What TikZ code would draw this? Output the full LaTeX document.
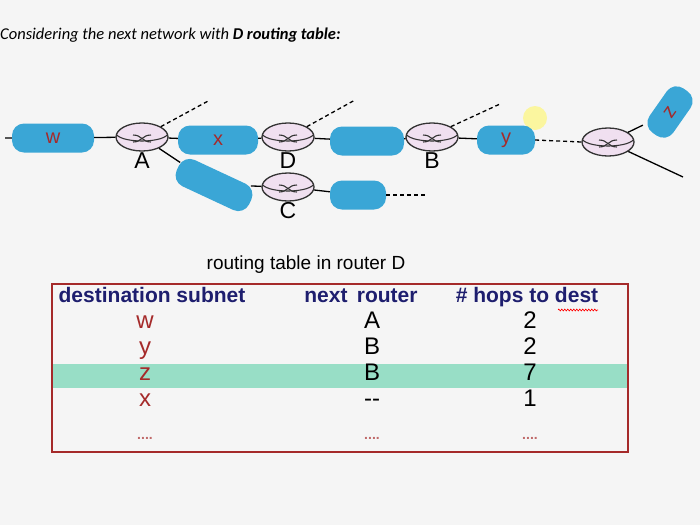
\documentclass[tikz,border=0pt]{standalone}
\usepackage{fontspec}
\setmainfont{Liberation Sans}
\newfontfamily\titlefont{Carlito}
\usetikzlibrary{shapes.geometric,decorations.pathmorphing}
\definecolor{blob}{HTML}{3AA6D6}
\definecolor{netred}{HTML}{A52A2A}
\definecolor{navy}{HTML}{1E1E6E}
\definecolor{band}{HTML}{7FD6B8}
\tikzset{
  router/.style={ellipse, draw=black!80, line width=1.3pt, fill=violet!12,
    minimum width=52pt, minimum height=28pt, inner sep=0pt,
    path picture={
      \draw[line width=1.1pt] ([yshift=4pt]path picture bounding box.west) arc (180:360:26pt and 8pt);
      \draw[line width=1.1pt] (-9pt,2pt) .. controls (0,2pt) and (0,-5pt) .. (9pt,-5pt);
      \draw[line width=1.1pt] (-9pt,-5pt) .. controls (0,-5pt) and (0,2pt) .. (9pt,2pt);}},
  subnet/.style={rounded corners=12pt, fill=blob, minimum height=29pt, inner sep=0pt,
    text=netred, font=\fontsize{20}{20}\selectfont},
  rlabel/.style={font=\fontsize{23}{23}\selectfont, inner sep=1pt},
  link/.style={line width=1.3pt},
  stub/.style={line width=1.3pt, dash pattern=on 4pt off 3pt},
  cell/.style={font=\fontsize{24}{24}\selectfont, text height=12pt, text depth=4pt, inner sep=0pt},
  head/.style={font=\bfseries\fontsize{21}{21}\selectfont, text=navy, text height=12pt, text depth=4pt, inner sep=0pt}
}
\begin{document}
\begin{tikzpicture}[x=1pt,y=-1pt]
	\fill[black!4] (0,0) rectangle (700,525);
	\useasboundingbox (0,0) rectangle (700,525);
	\node[anchor=west, inner sep=0pt, font=\titlefont\itshape\fontsize{16.5}{16.5}\selectfont] (title) at (0,35) {Considering the next network with \textbf{D routing table:}};
	% glare
	\fill[yellow!60, opacity=0.6] (535,118) circle (12);
	% subnets
	\node[subnet, minimum width=82pt] (w) at (53,138) {w};
	\node[subnet, minimum width=80pt] (x) at (218,140) {x};
	\node[subnet, minimum width=74pt] (db) at (367,141) {};
	\node[subnet, minimum width=58pt] (y) at (506,140) {y};
	\node[subnet, minimum width=56pt] (cs) at (358,195) {};
	\node[subnet, minimum width=80pt, rotate=-25] (ac) at (214,185) {};
	\node[subnet, minimum width=54pt, rotate=55] (z) at (670,112) {z};
	% routers
	\node[router] (A) at (142,137) {};
	\node[router] (D) at (288,137) {};
	\node[router] (B) at (432,137) {};
	\node[router] (C) at (288,187) {};
	\node[router] (R) at (608,142) {};
	\node[rlabel, below=0pt] at (A.south) {A};
	\node[rlabel, below=0pt] at (D.south) {D};
	\node[rlabel, below=0pt] at (B.south) {B};
	\node[rlabel, below=0pt] at (C.south) {C};
	% links
	\coordinate (wend) at (5,138);
	\coordinate (astub) at (210,100);
	\coordinate (dstub) at (355,100);
	\coordinate (bstub) at (500,104);
	\coordinate (cstub) at (425,195);
	\coordinate (rout) at (683,177);
	\draw[link] (wend) -- (w) -- (A) -- (x) -- (D) -- (db) -- (B) -- (y);
	\draw[link] (A) -- (ac) -- (C) -- (cs);
	\draw[link] (R) -- (z);
	\draw[link] (R) -- (rout);
	\draw[stub] (y.east) -- (R.west);
	\draw[stub] (cs.east) -- (cstub);
	\draw[stub] (A.north east) -- (astub);
	\draw[stub] (D.north east) -- (dstub);
	\draw[stub] (B.north east) -- (bstub);
	% table
	\node[font=\fontsize{19}{19}\selectfont] (cap) at (306,265) {routing table in router D};
	\fill[band!80] (52,364) rectangle (628,388);
	\draw[netred, line width=1.5pt] (52,284) rectangle (628,452);
	\node[head] (h1) at (152,298) {destination subnet};
	\node[head] (h2) at (361,298) {next\, router};
	\node[head] (h3) at (527,298) {\# hops to dest};
	\draw[red, line width=0.6pt, decorate, decoration={zigzag, amplitude=1pt, segment length=3pt}] (558,310) -- (598,310);
	\foreach \d/\n/\h [count=\i] in {w/A/2, y/B/2, z/B/7, x/{-{}-}/1}{
		\node[cell, text=netred] (d\i) at (145,324+26*\i-26) {\d};
		\node[cell] (n\i) at (372,324+26*\i-26) {\n};
		\node[cell] (k\i) at (530,324+26*\i-26) {\h};
	}
	\foreach \c in {145,372,530}
		\node[font=\bfseries\fontsize{14}{14}\selectfont, text=netred!70] at (\c,438) {....};
\end{tikzpicture}
\end{document}
